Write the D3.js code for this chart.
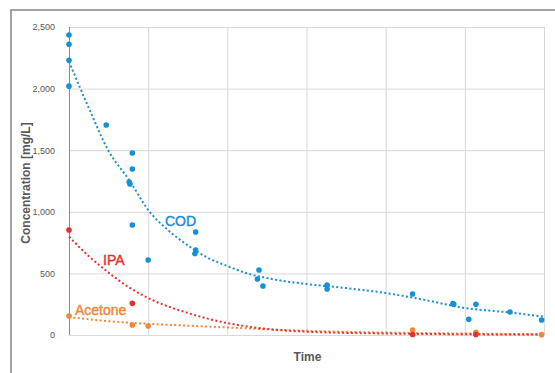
<!DOCTYPE html>
<html>
<head>
<meta charset="utf-8">
<script src="https://cdn.jsdelivr.net/npm/d3@7"></script>
<style>
body { margin: 0; background: #fff; }
svg { display: block; font-family: "Liberation Sans", Arial, sans-serif; }
</style>
</head>
<body>
<div id="chart"></div>
<script>
// measured points [time, mg/L]
var codData = [[0,2435],[0,2360],[0,2230],[0,2020],[0.47,1705],[0.8,1477],[0.8,1347],
  [0.76,1242],[0.77,1226],[0.8,893],[1.0,609],[1.6,836],[1.6,690],[1.59,660],
  [2.4,528],[2.38,455],[2.45,398],[3.26,406],[3.26,373],[4.34,333],[4.85,255],
  [4.86,250],[5.05,127],[5.14,249],[5.57,187],[5.97,122]];
var ipaData = [[0,852],[0.8,257],[4.34,4],[5.14,4]];
var acetoneData = [[0,154],[0.8,81],[1.0,73],[4.34,41],[5.14,22],[5.97,3]];

// trendlines
var codTrend = [[0,2220],[0.25,1843],[0.5,1494],[0.76,1258],[1,1015],[1.25,852],[1.5,728],
  [1.75,628],[2,560],[2.25,500],[2.5,462],[3,414],[3.5,381],[4,341],[4.5,284],[5,219],
  [5.5,187],[6,149]];
var ipaTrend = [[0,798],[0.25,640],[0.5,506],[0.75,390],[1,300],[1.5,179],[2,97],
  [2.5,49],[3,27],[4,12],[5,6],[6,3]];
var acetoneTrend = [[0,145],[0.5,112],[1,91],[1.5,76],[2,61],[3,34],[4,20],[5,12],[6,6]];

var yTicks = [0, 500, 1000, 1500, 2000, 2500];
var xTicks = [0, 1, 2, 3, 4, 5, 6];

var svgWidth = 555, svgHeight = 373;
var margin = {top: 27, right: 11, bottom: 38, left: 69};
var chartWidth = svgWidth - margin.left - margin.right;
var chartHeight = svgHeight - margin.top - margin.bottom;

var svg = d3.select("#chart").append("svg")
  .attr("width", svgWidth)
  .attr("height", svgHeight);

// outer chart border
svg.append("rect")
  .attr("x", 11).attr("y", 10)
  .attr("width", 560).attr("height", 380)
  .attr("fill", "none")
  .attr("stroke", "#858585")
  .attr("stroke-width", 1.5);

var g = svg.append("g")
  .attr("transform", `translate(${margin.left}, ${margin.top})`);

var x = d3.scaleLinear().domain([0, 6]).range([0, chartWidth]);
var y = d3.scaleLinear().domain([0, 2500]).range([chartHeight, 0]);

// gridlines
g.append("g").selectAll("line").data(yTicks).enter().append("line")
  .attr("x1", 0).attr("x2", chartWidth)
  .attr("y1", d => y(d) + 0.5).attr("y2", d => y(d) + 0.5)
  .attr("stroke", "#d9d9d9");
g.append("g").selectAll("line").data(xTicks.slice(1)).enter().append("line")
  .attr("x1", d => x(d) + 0.5).attr("x2", d => x(d) + 0.5)
  .attr("y1", 0).attr("y2", chartHeight)
  .attr("stroke", "#d9d9d9");

// left axis
var leftAxis = d3.axisLeft(y).tickValues(yTicks).tickFormat(d3.format(",")).tickSize(0).tickPadding(14);
var yAxisG = g.append("g").call(leftAxis);
yAxisG.select(".domain").attr("stroke", "#8c8c8c").attr("d", `M0.5,0V${chartHeight}`);
yAxisG.selectAll("text").attr("fill", "#595959").attr("font-size", "9px");

// axis titles
g.append("text")
  .attr("transform", `translate(-39, ${chartHeight / 2 + 2}) rotate(-90)`)
  .attr("text-anchor", "middle")
  .attr("font-size", "12px")
  .attr("font-weight", "bold")
  .attr("fill", "#595959")
  .text("Concentration [mg/L]");
g.append("text")
  .attr("x", x(3) + 1)
  .attr("y", chartHeight + 26)
  .attr("text-anchor", "middle")
  .attr("font-size", "12px")
  .attr("font-weight", "bold")
  .attr("fill", "#595959")
  .text("Time");

var series = [
  {name: "COD", color: "#1591d6", pts: codData, trend: codTrend, lx: 96, ly: 226},
  {name: "IPA", color: "#e5312c", pts: ipaData, trend: ipaTrend, lx: 34, ly: 265},
  {name: "Acetone", color: "#f0883c", pts: acetoneData, trend: acetoneTrend, lx: 6, ly: 315}
];

var line = d3.line().x(d => x(d[0])).y(d => y(d[1])).curve(d3.curveMonotoneX);

// trendlines drawn bottom-up so COD sits on top
series.slice().reverse().forEach(s => {
  g.append("path")
    .datum(s.trend)
    .attr("d", line)
    .attr("fill", "none")
    .attr("stroke", s.color)
    .attr("stroke-width", 2)
    .attr("stroke-dasharray", "2,2.4");
});

series.slice().reverse().forEach(s => {
  g.append("g").selectAll("circle")
    .data(s.pts)
    .enter()
    .append("circle")
    .attr("cx", d => x(d[0]))
    .attr("cy", d => y(d[1]))
    .attr("r", 2.8)
    .attr("fill", s.color);
});

series.forEach(s => {
  g.append("text")
    .attr("x", s.lx)
    .attr("y", s.ly - margin.top)
    .attr("font-size", "14px")
    .attr("fill", s.color)
    .attr("stroke", s.color)
    .attr("stroke-width", 0.45)
    .text(s.name);
});
</script>
</body>
</html>
